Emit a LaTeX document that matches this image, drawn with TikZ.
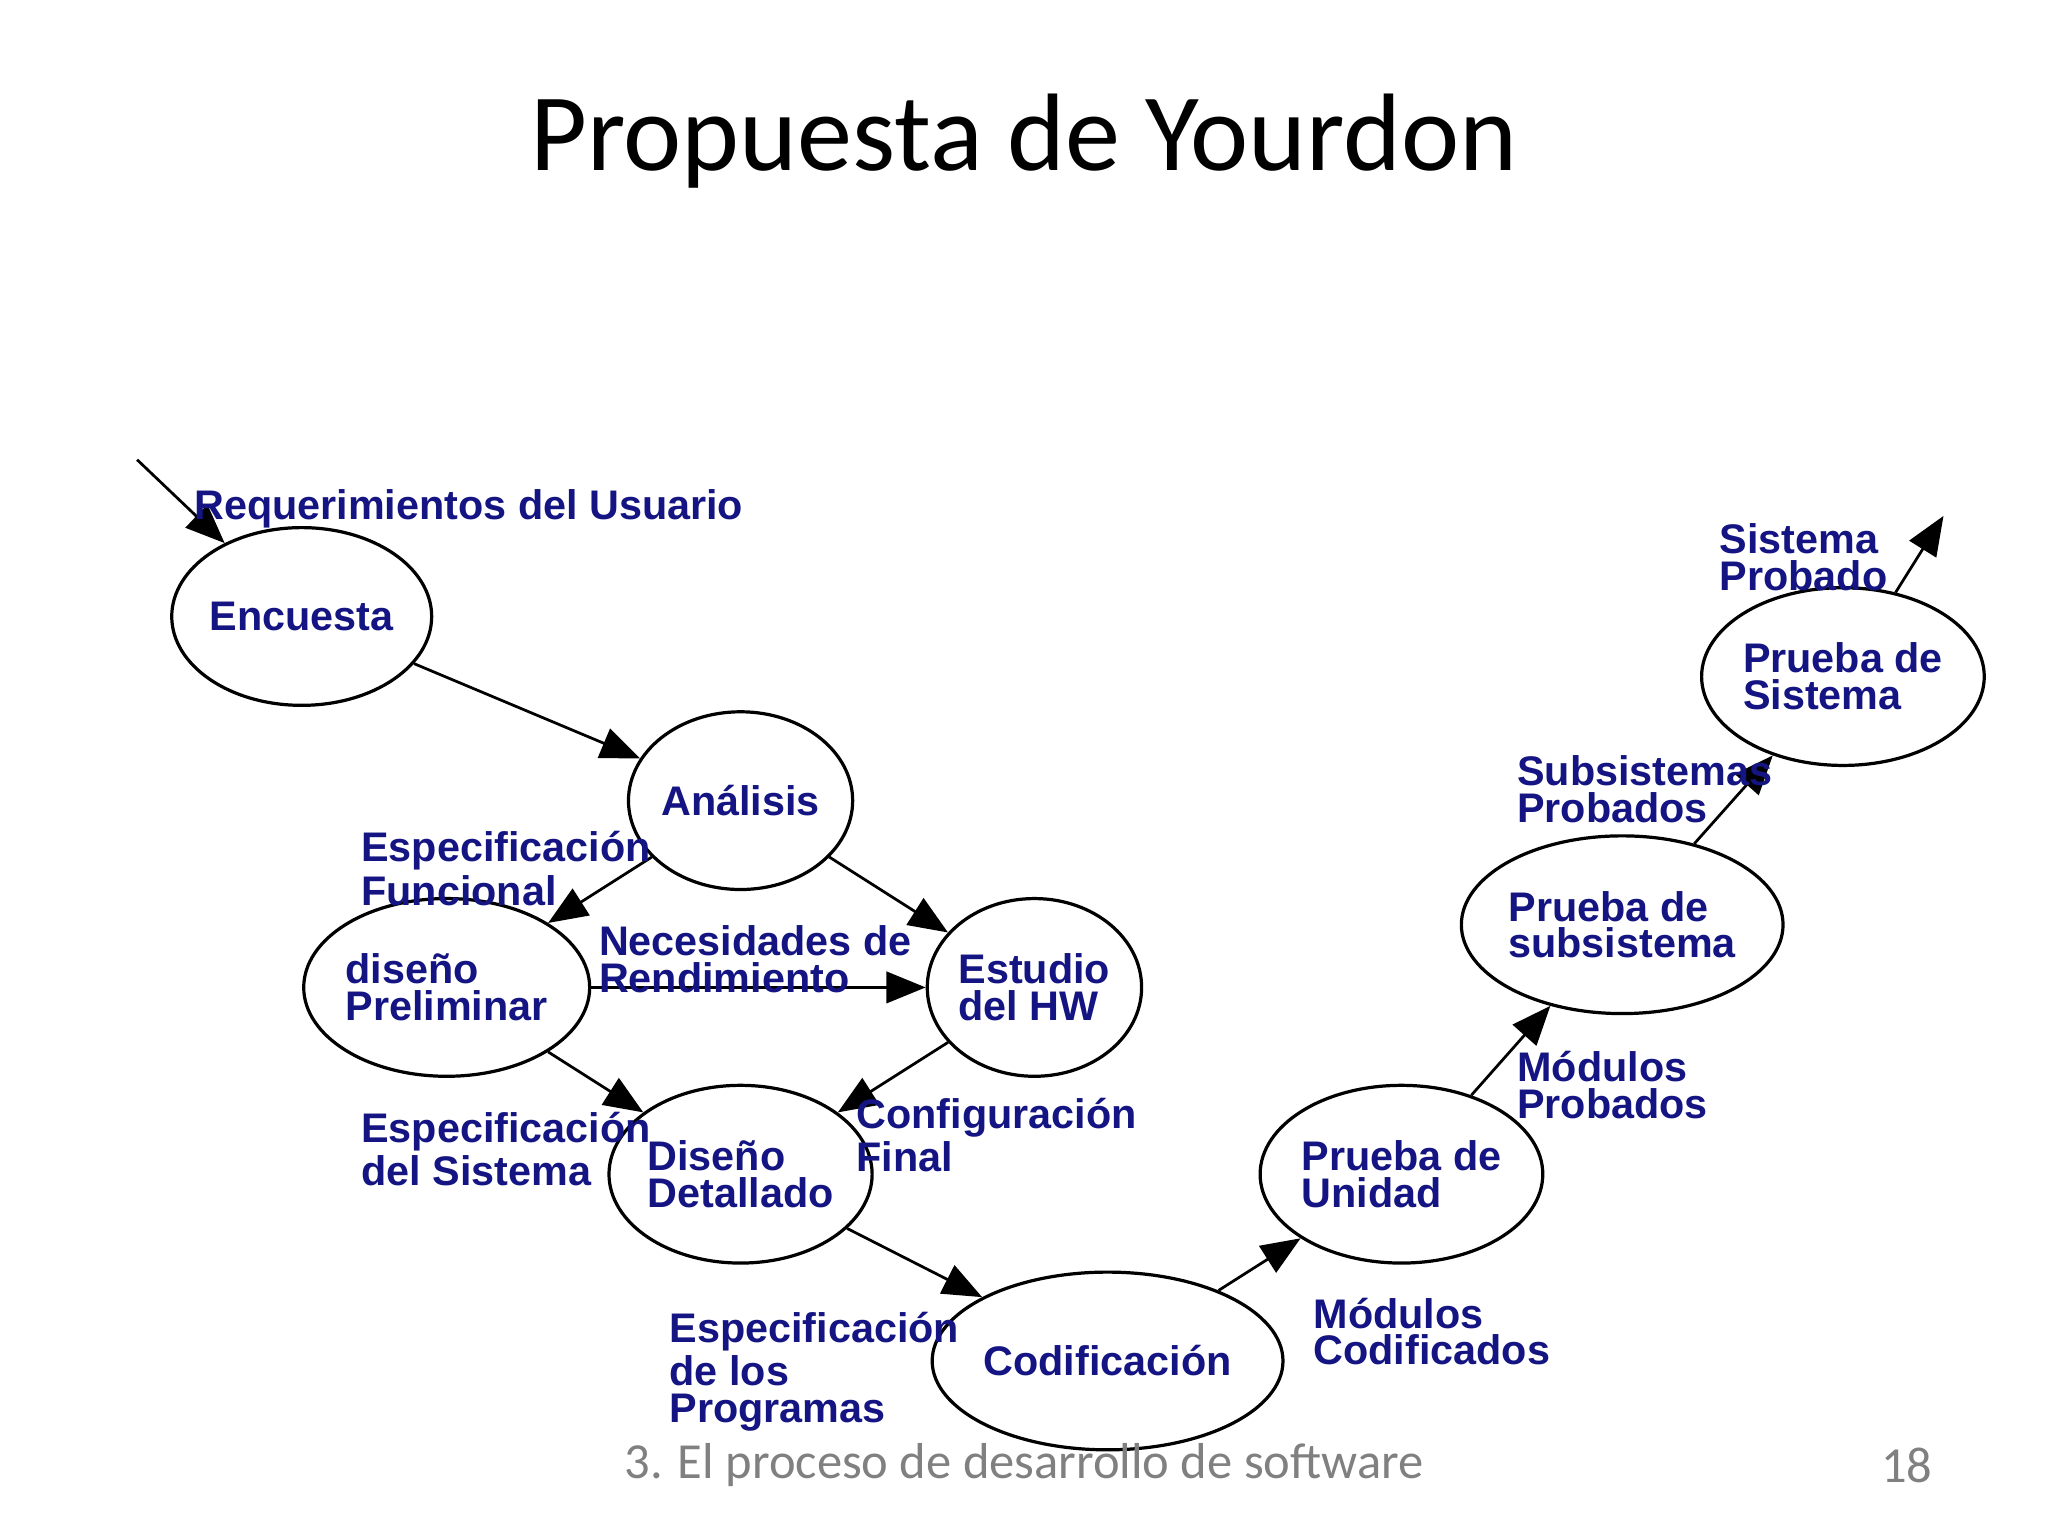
\documentclass[tikz,border=0pt]{standalone}
\usepackage{fontspec}
\setmainfont{Carlito}
\newfontfamily\lbl{Liberation Sans}
\usetikzlibrary{arrows.meta,shapes.geometric}
\definecolor{navy}{RGB}{20,20,130}
\tikzset{
 st/.style={draw,ellipse,line width=0.7pt,minimum width=1.62cm,minimum height=1.36cm,inner sep=0pt,text=navy,font=\lbl\bfseries\fontsize{9}{8}\selectfont,align=left},
 lb/.style={anchor=north west,inner sep=0pt,text=navy,font=\lbl\bfseries\fontsize{9}{8}\selectfont,align=left},
 ar/.style={-{Triangle[length=0.3cm,width=0.24cm]},line width=0.6pt}
}
\begin{document}
\begin{tikzpicture}[x=0.01cm,y=-0.01cm]
\useasboundingbox (0,0) rectangle (1568,1176);
\node[font=\fontsize{24}{28}\selectfont] (t) at (784,108) {Propuesta de Yourdon};
\node[st] (enc) at (231,472) {Encuesta};
\node[st] (ana) at (567,613) {Análisis};
\node[st] (dp) at (342,756) {diseño\\Preliminar};
\node[st] (hw) at (792,756) {Estudio\\del HW};
\node[st] (dd) at (567,899) {Diseño\\Detallado};
\node[st] (cod) at (848,1042) {Codificación};
\node[st] (pu) at (1073,899) {Prueba de\\Unidad};
\node[st] (psub) at (1242,708) {Prueba de\\subsistema};
\node[st] (psis) at (1411,518) {Prueba de\\Sistema};
\coordinate (in) at (105,352);
\coordinate (out) at (1488,395);
\draw[ar] (in) -- (enc);
\draw[ar] (enc) -- (ana);
\draw[ar] (ana) -- (dp);
\draw[ar] (ana) -- (hw);
\draw[ar] (dp) -- (hw);
\draw[ar] (dp) -- (dd);
\draw[ar] (hw) -- (dd);
\draw[ar] (dd) -- (cod);
\draw[ar] (cod) -- (pu);
\draw[ar] (pu) -- (psub);
\draw[ar] (psub) -- (psis);
\draw[ar] (psis) -- (out);
\node[lb] (l1) at (148,374) {Requerimientos del Usuario};
\node[lb] (l2) at (276,636) {Especificación\\Funcional};
\node[lb] (l3) at (458,708) {Necesidades de\\Rendimiento};
\node[lb] (l4) at (276,851) {Especificación\\del Sistema};
\node[lb] (l5) at (655,840) {Configuración\\Final};
\node[lb] (l6) at (512,1004) {Especificación\\de los\\Programas};
\node[lb] (l7) at (1005,993) {Módulos\\Codificados};
\node[lb] (l8) at (1161,804) {Módulos\\Probados};
\node[lb] (l9) at (1161,578) {Subsistemas\\Probados};
\node[lb] (l10) at (1316,400) {Sistema\\Probado};
\node[text=gray,font=\fontsize{11}{13}\selectfont] (f1) at (784,1122) {3. El proceso de desarrollo de software};
\node[text=gray,font=\fontsize{11}{13}\selectfont] (f2) at (1460,1122) {18};
\end{tikzpicture}
\end{document}
